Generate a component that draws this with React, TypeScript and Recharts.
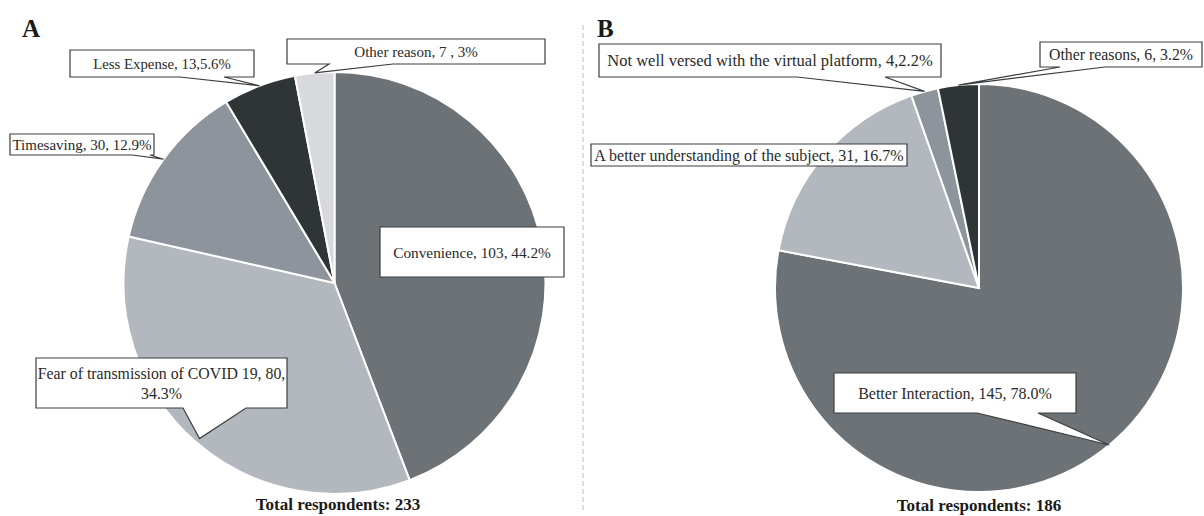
import { Cell, Pie, PieChart } from 'recharts';

const CATEGORIES_A = ['Convenience', 'Fear of transmission of COVID 19', 'Timesaving', 'Less Expense', 'Other reason'];
const VALUES_A = [103, 80, 30, 13, 7];
const LABELS_A = [
    ['Convenience, 103, 44.2%'],
    ['Fear of transmission of COVID 19, 80,', '34.3%'],
    ['Timesaving, 30, 12.9%'],
    ['Less Expense, 13,5.6%'],
    ['Other reason, 7 , 3%'],
];

const CATEGORIES_B = ['Better Interaction', 'A better understanding of the subject', 'Not well versed with the virtual platform', 'Other reasons'];
const VALUES_B = [145, 31, 4, 6];
const LABELS_B = [
    ['Better Interaction, 145, 78.0%'],
    ['A better understanding of the subject, 31, 16.7%'],
    ['Not well versed with the virtual platform, 4,2.2%'],
    ['Other reasons, 6, 3.2%'],
];

const TOTAL_A = 'Total respondents: 233';
const TOTAL_B = 'Total respondents: 186';

const COLORS_A = ['#6d7277', '#b3b8bf', '#8e949b', '#2f3536', '#d7d9dc'];
const COLORS_B = ['#6d7277', '#b3b8bf', '#8e949b', '#2f3536'];

// callout boxes [x0, y0, x1, y1] and where the pointer leaves the box bottom
type Callout = { box: number[]; base: number[] | null; inset?: number; size: number };

const CALLOUTS_A: Callout[] = [
    { box: [380, 227, 564, 277], base: null, size: 15.3 },
    { box: [36, 358, 287, 408], base: [183, 246], inset: 5, size: 15.8 },
    { box: [10, 134, 154, 155], base: [132, 150], size: 15 },
    { box: [70, 50, 254, 77], base: [180, 224], size: 14.8 },
    { box: [287, 39, 545, 64], base: [329, 393], size: 15 },
];

const CALLOUTS_B: Callout[] = [
    { box: [834, 373, 1076, 413], base: [977, 1038], size: 16 },
    { box: [591, 144, 907, 166], base: null, size: 16 },
    { box: [599, 44, 941, 77], base: [797, 885], size: 16.5 },
    { box: [1040, 42, 1202, 67], base: [1060, 1105], size: 15.8 },
];

const RAD = Math.PI / 180;
const FONT = '"Liberation Serif", "DejaVu Serif", serif';

const dataA = CATEGORIES_A.map((name, i) => ({ name, value: VALUES_A[i] }));
const dataB = CATEGORIES_B.map((name, i) => ({ name, value: VALUES_B[i] }));

const makeCallout = (texts: string[][], callouts: Callout[]) => (props: any) => {
    const { cx, cy, midAngle, outerRadius, index } = props;
    const c = callouts[index];
    const lines = texts[index];
    const [x0, y0, x1, y1] = c.box;
    let d = `M${x0},${y0}H${x1}V${y1}H${x0}Z`;
    if (c.base) {
        const r = outerRadius - (c.inset ?? 0);
        const tx = cx + r * Math.cos(-midAngle * RAD);
        const ty = cy + r * Math.sin(-midAngle * RAD);
        d = `M${x0},${y0}H${x1}V${y1}H${c.base[1]}L${tx},${ty}L${c.base[0]},${y1}H${x0}Z`;
    }
    const mx = (x0 + x1) / 2;
    const my = (y0 + y1) / 2;
    const gap = 20;
    const first = my - ((lines.length - 1) * gap) / 2;
    return (
        <g key={`callout-${index}`}>
            <path d={d} fill="#fff" stroke="#3b3d3f" strokeWidth={1.2} />
            {lines.map((t, i) => (
                <text key={i} x={mx} y={first + i * gap + 5.5} textAnchor="middle" fontSize={c.size} fontFamily={FONT} fill="#2a2a2a">
                    {t}
                </text>
            ))}
        </g>
    );
};

const App = () => {
    return (
        <div style={{ position: 'absolute', left: 0, top: 0, width: 1204, height: 516, background: '#fff' }}>
            <PieChart width={1204} height={516} margin={{ top: 0, right: 0, bottom: 0, left: 0 }}>
                <Pie
                    data={dataA}
                    dataKey="value"
                    cx={334.5}
                    cy={283}
                    outerRadius={211}
                    startAngle={90}
                    endAngle={-270}
                    stroke="#fff"
                    strokeWidth={2}
                    labelLine={false}
                    label={makeCallout(LABELS_A, CALLOUTS_A)}
                    isAnimationActive={false}
                >
                    {dataA.map((entry, index) => (
                        <Cell key={`a-${index}`} fill={COLORS_A[index % COLORS_A.length]} />
                    ))}
                </Pie>
                <Pie
                    data={dataB}
                    dataKey="value"
                    cx={979}
                    cy={288}
                    outerRadius={204}
                    startAngle={90}
                    endAngle={-270}
                    stroke="#fff"
                    strokeWidth={2}
                    labelLine={false}
                    label={makeCallout(LABELS_B, CALLOUTS_B)}
                    isAnimationActive={false}
                >
                    {dataB.map((entry, index) => (
                        <Cell key={`b-${index}`} fill={COLORS_B[index % COLORS_B.length]} />
                    ))}
                </Pie>
            </PieChart>
            <svg width={1204} height={516} style={{ position: 'absolute', left: 0, top: 0, pointerEvents: 'none' }}>
                <line x1={583} y1={25} x2={583} y2={512} stroke="#cfd2d6" strokeWidth={1.5} strokeDasharray="5 3" />
                <text x={22} y={37} fontSize={25} fontWeight="bold" fontFamily={FONT} fill="#1a1a1a">A</text>
                <text x={597} y={37} fontSize={25} fontWeight="bold" fontFamily={FONT} fill="#1a1a1a">B</text>
                <text x={338} y={510} textAnchor="middle" fontSize={17} fontWeight="bold" fontFamily={FONT} fill="#1a1a1a">{TOTAL_A}</text>
                <text x={979} y={511} textAnchor="middle" fontSize={17} fontWeight="bold" fontFamily={FONT} fill="#1a1a1a">{TOTAL_B}</text>
            </svg>
        </div>
    );
};

export default App;
